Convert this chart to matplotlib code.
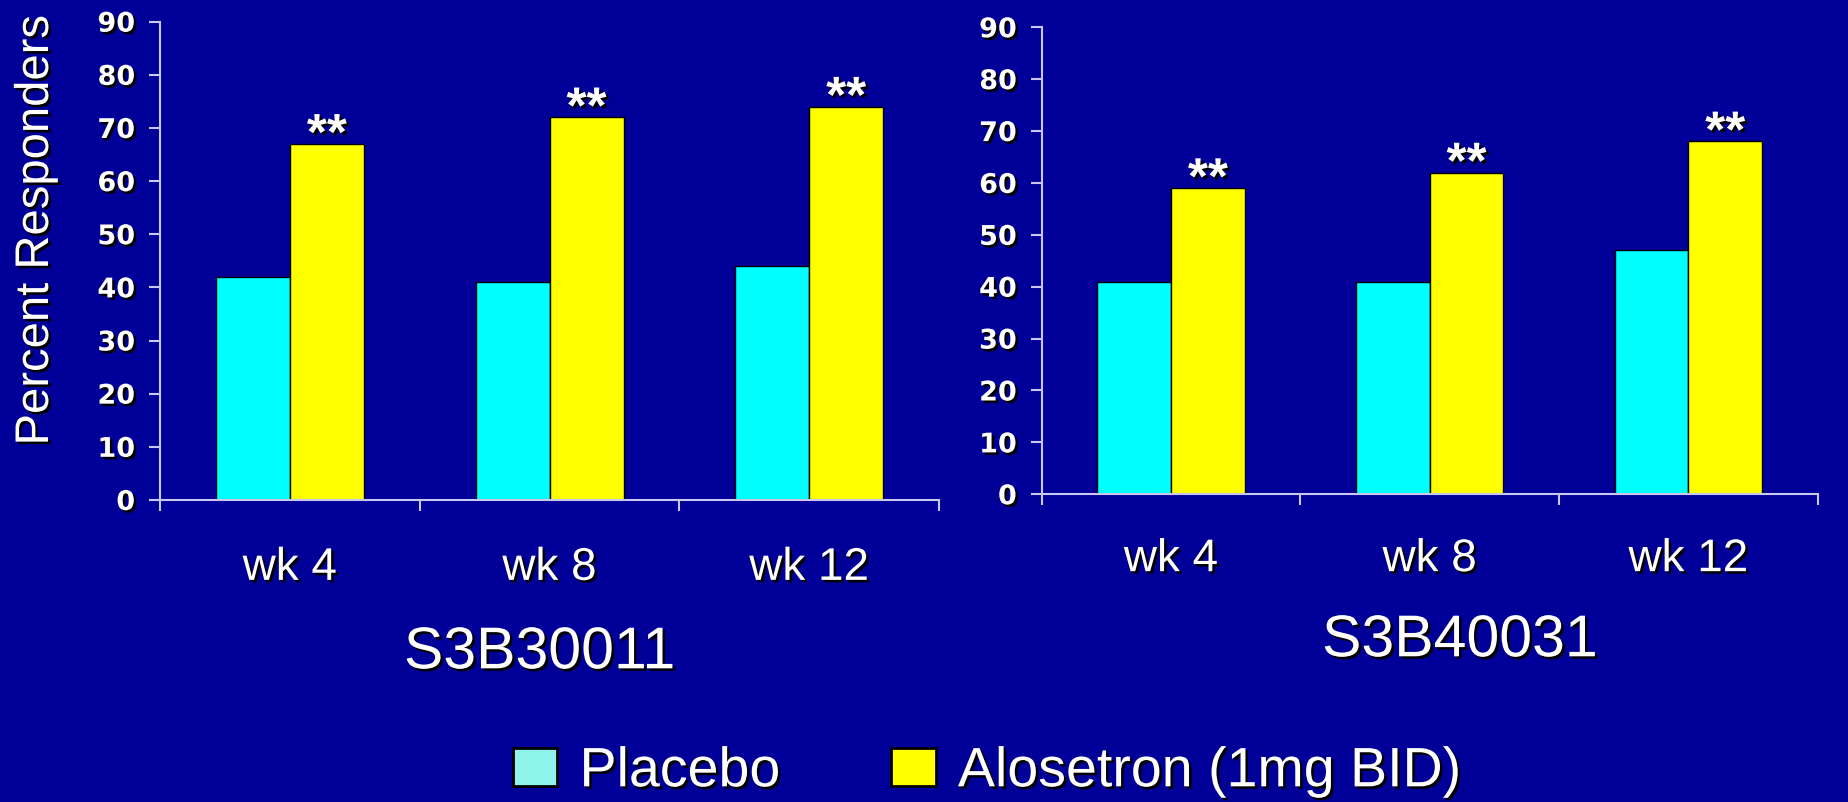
import matplotlib
matplotlib.use('Agg')
import matplotlib.pyplot as plt
import matplotlib.patheffects as pe
from matplotlib.patches import Patch
import numpy as np

# responder rates (%) per study and visit
weeks = ['wk 4', 'wk 8', 'wk 12']
s3b30011_placebo = [42, 41, 44]
s3b30011_alosetron = [67, 72, 74]
s3b40031_placebo = [41, 41, 47]
s3b40031_alosetron = [59, 62, 68]
studies = ['S3B30011', 'S3B40031']
series_names = ['Placebo', 'Alosetron (1mg BID)']

bg = '#000099'
axis_c = '#c8c8ec'
placebo_c = '#00ffff'
alosetron_c = '#ffff00'
legend_placebo_c = '#8ef3ea'
shadow = [pe.withSimplePatchShadow(offset=(1.8, -1.8), shadow_rgbFace='black', alpha=1)]

plt.rcParams['font.family'] = ['Liberation Sans', 'DejaVu Sans']

W = 0.285


def draw_panel(ax, placebo, alosetron, label_y):
    ax.set_facecolor(bg)
    x = np.arange(len(weeks))
    ax.bar(x - W / 2, placebo, W, color=placebo_c, edgecolor='black', linewidth=1)
    ax.bar(x + W / 2, alosetron, W, color=alosetron_c, edgecolor='black', linewidth=1)
    # significance marks over the active arm
    for xi, v in zip(x, alosetron):
        ax.annotate('**', (xi + W / 2, v), xytext=(0, -4), textcoords='offset points',
                    ha='center', va='baseline', fontsize=37, fontweight='bold',
                    color='white', path_effects=shadow)
    ax.set_xlim(-0.5, len(weeks) - 0.5)
    ax.set_ylim(0, 90)
    ax.set_xticks(np.arange(len(weeks) + 1) - 0.5)
    ax.set_xticklabels([])
    ax.set_yticks(range(0, 91, 10))
    for lab in ax.get_yticklabels():
        lab.set_family('DejaVu Sans')
        lab.set_fontweight('bold')
        lab.set_fontsize(19.5)
        lab.set_color('white')
        lab.set_path_effects(shadow)
    ax.tick_params(length=8, width=1.5, color=axis_c, pad=10)
    for s in ['top', 'right']:
        ax.spines[s].set_visible(False)
    for s in ['left', 'bottom']:
        ax.spines[s].set_color(axis_c)
        ax.spines[s].set_linewidth(1.5)
    for xi, wk in zip(x, weeks):
        ax.text(xi, label_y, wk, transform=ax.get_xaxis_transform(), ha='center',
                va='center', fontsize=33, color='white', path_effects=shadow)


fig = plt.figure(figsize=(18.48, 8.02), dpi=100, facecolor=bg)
ax1 = fig.add_axes([0.0866, 0.3766, 0.4215, 0.5964])
ax2 = fig.add_axes([0.5637, 0.3837, 0.4199, 0.5823])

draw_panel(ax1, s3b30011_placebo, s3b30011_alosetron, -0.142)
draw_panel(ax2, s3b40031_placebo, s3b40031_alosetron, -0.139)

fig.text(0.0195, 0.713, 'Percent Responders', rotation=90, ha='center', va='center',
         fontsize=34, color='white', path_effects=shadow)
fig.text(0.292, 0.186, studies[0], ha='center', va='center', fontsize=42.5,
         color='white', path_effects=shadow)
fig.text(0.790, 0.201, studies[1], ha='center', va='center', fontsize=42.5,
         color='white', path_effects=shadow)

handles = [Patch(facecolor=legend_placebo_c, edgecolor='black', linewidth=2),
           Patch(facecolor=alosetron_c, edgecolor='black', linewidth=2)]
leg = fig.legend(handles, series_names, loc='center', bbox_to_anchor=(0.534, 0.037),
                 ncol=2, frameon=False, fontsize=40, handlelength=0.8, handleheight=0.67,
                 handletextpad=0.4, columnspacing=2.0, labelcolor='white')
for t in leg.get_texts():
    t.set_path_effects(shadow)

fig.savefig('out.png', dpi=100, facecolor=bg)
